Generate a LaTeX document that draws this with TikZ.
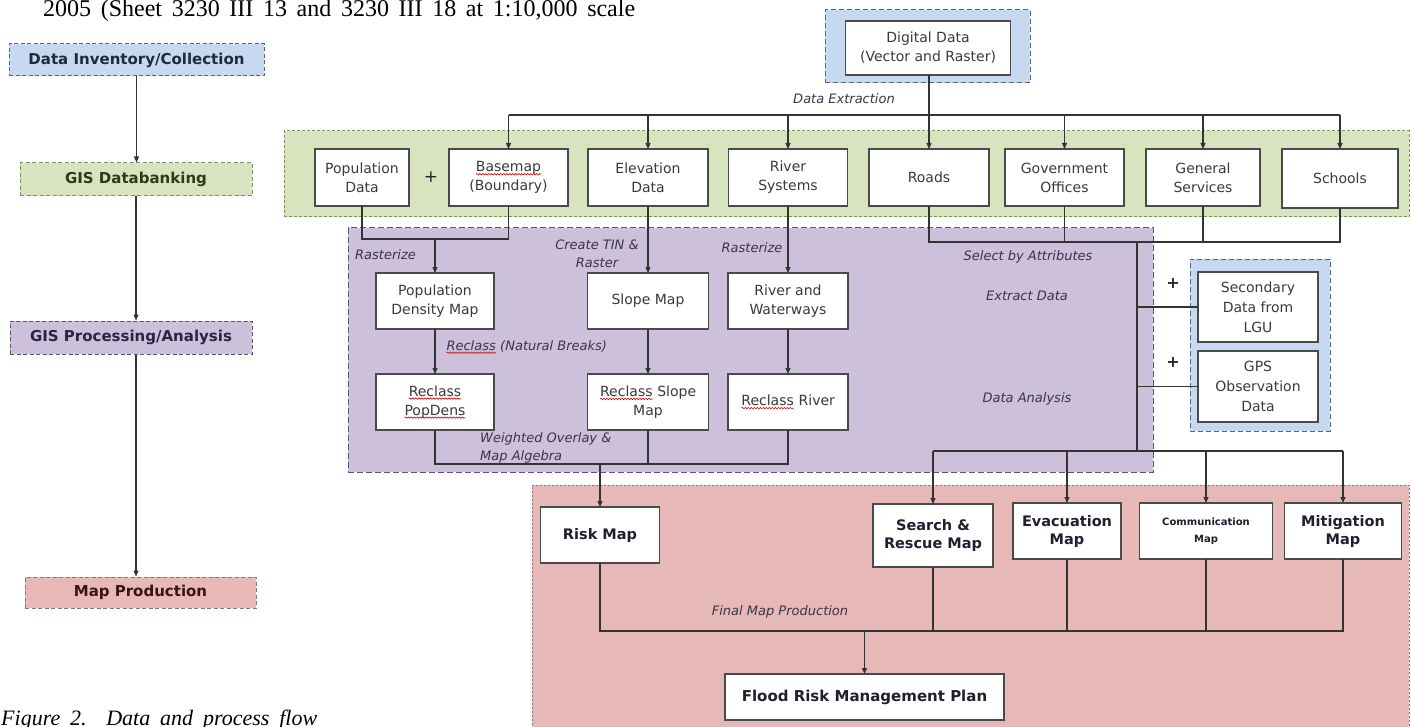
\documentclass[tikz,border=0pt]{standalone}
\usepackage{fontspec}
\setmainfont{Liberation Serif}
\newfontfamily\dv{DejaVu Sans}
\usetikzlibrary{arrows.meta,decorations.pathmorphing}

\definecolor{cblue}{HTML}{C6D9F1}
\definecolor{cgreen}{HTML}{D7E4BD}
\definecolor{cpurple}{HTML}{CCC0DA}
\definecolor{cpink}{HTML}{E6B9B8}
\definecolor{cbluebd}{HTML}{56657C}
\definecolor{cgreenbd}{HTML}{7F8F60}
\definecolor{cpurplebd}{HTML}{5C5670}
\definecolor{cpinkbd}{HTML}{8A7878}
\definecolor{cline}{HTML}{333333}
\definecolor{ctext}{HTML}{3A3A3A}
\definecolor{cbord}{HTML}{4A4A4A}
\definecolor{clbl}{HTML}{3A3548}
\definecolor{cbold}{HTML}{1F1F30}
\definecolor{tblue}{HTML}{1F2A3A}
\definecolor{tgreen}{HTML}{2E3B13}
\definecolor{tpurple}{HTML}{2B2545}
\definecolor{tpink}{HTML}{3B1212}

\newcommand\sqw[1]{\tikz[baseline=(sqwn.base)]{\node[shape=rectangle,inner sep=0pt,outer sep=0pt,minimum width=0pt,minimum height=0pt,draw=none,fill=none,anchor=base] (sqwn) at (0,0) {#1};\draw[red!85!black,line width=0.6pt,decorate,decoration={snake,amplitude=0.7pt,segment length=3pt}] ([yshift=-2.6pt]sqwn.base west) -- ([yshift=-2.6pt]sqwn.base east);}}

\tikzset{
  region/.style={rectangle, line width=1pt, inner sep=0pt, outer sep=0pt},
  bluereg/.style={region, fill=cblue, draw=cbluebd, dash pattern=on 5pt off 3pt},
  greenreg/.style={region, fill=cgreen, draw=cgreenbd, dash pattern=on 3pt off 2pt},
  purplereg/.style={region, fill=cpurple, draw=cpurplebd, dash pattern=on 6pt off 3pt},
  pinkreg/.style={region, fill=cpink, draw=cpinkbd, dash pattern=on 2pt off 2pt},
  wbox/.style={rectangle, draw=cbord, fill=white, line width=1.3pt, align=center,
    font=\dv\fontsize{14}{19}\selectfont, text=ctext, inner sep=2pt, outer sep=0pt},
  bbox/.style={wbox, font=\dv\bfseries\fontsize{14.5}{18}\selectfont, text=cbold},
  lbl/.style={font=\dv\itshape\fontsize{13}{18}\selectfont, text=clbl, inner sep=0pt, align=center},
  plus/.style={font=\dv\bfseries\fontsize{16}{16}\selectfont, text=black!85, inner sep=0pt},
  stagebox/.style={rectangle, line width=1pt, dash pattern=on 4pt off 2.5pt, inner sep=0pt,
    font=\dv\bfseries\fontsize{15}{18}\selectfont},
  cl/.style={draw=cline, line width=1.1pt},
  arr/.style={cl, -{Triangle[length=6pt,width=5pt]}}
}

\begin{document}
\begin{tikzpicture}[x=1pt,y=-1pt]
\useasboundingbox (0,0) rectangle (1412,727);
\clip (0,0) rectangle (1412,727);

% header and caption
\node[anchor=base west, inner sep=0pt, font=\fontsize{24}{28}\selectfont] (hdr) at (43,17)
  {\makebox[592pt][s]{2005 (Sheet 3230 III 13 and 3230 III 18 at 1:10,000 scale}};
\node[anchor=base west, inner sep=0pt, font=\itshape\fontsize{22}{26}\selectfont] (cap) at (1,725)
  {\makebox[316pt][s]{Figure 2.\ \ Data and process flow}};

% left column
\node[stagebox, fill=cblue, draw=cbluebd, text=tblue, minimum width=255, minimum height=32] (inv) at (136.5,60) {Data Inventory/Collection};
\node[stagebox, fill=cgreen, draw=cgreenbd, text=tgreen, minimum width=232, minimum height=33] (gdb) at (136,179.5) {GIS Databanking};
\node[stagebox, fill=cpurple, draw=cpurplebd, text=tpurple, minimum width=242, minimum height=33] (gpa) at (131,337.5) {GIS Processing/Analysis};
\node[stagebox, fill=cpink, draw=cpinkbd, text=tpink, minimum width=231, minimum height=31] (mp) at (140.5,592.5) {Map Production};
\draw[arr] (inv.south) -- (inv.south |- gdb.north);
\draw[arr] (gdb.south) -- (gdb.south |- gpa.north);
\draw[arr] (gdb.south |- gpa.south) -- (gdb.south |- mp.north);

% regions
\node[bluereg, minimum width=205, minimum height=73] (ddo) at (927.5,46.5) {};
\node[greenreg, minimum width=1125, minimum height=86] (greg) at (846.5,174) {};
\node[purplereg, minimum width=805, minimum height=244] (preg) at (750.5,350) {};
\node[bluereg, minimum width=140, minimum height=172] (sreg) at (1260,345) {};
\node[pinkreg, minimum width=877, minimum height=260] (kreg) at (970.5,615) {};

% digital data
\node[wbox, minimum width=165, minimum height=54] (dd) at (928,48) {Digital Data\\(Vector and Raster)};
\node[lbl] (lde) at (844,99) {Data Extraction};

% green boxes
\node[wbox, minimum width=94, minimum height=57] (pop) at (362,177.5) {Population\\Data};
\node[plus, font=\dv\fontsize{17}{17}\selectfont] (plus0) at (431,177) {+};
\node[wbox, minimum width=119, minimum height=57] (base) at (508.5,177.5) {\sqw{Basemap}\\(Boundary)};
\node[wbox, minimum width=120, minimum height=57] (elev) at (648,177.5) {Elevation\\Data};
\node[wbox, minimum width=119, minimum height=57] (riv) at (788,177.5) {River\\Systems};
\node[wbox, minimum width=120, minimum height=57] (roads) at (929,177.5) {Roads};
\node[wbox, minimum width=119, minimum height=57] (gov) at (1064.5,177.5) {Government\\Offices};
\node[wbox, minimum width=114, minimum height=57] (gen) at (1203,177.5) {General\\Services};
\node[wbox, minimum width=116, minimum height=59] (sch) at (1340,178.5) {Schools};

% purple boxes
\node[wbox, minimum width=118, minimum height=56] (pd) at (435,301) {Population\\Density Map};
\node[wbox, minimum width=121, minimum height=56] (slope) at (648,301) {Slope Map};
\node[wbox, minimum width=120, minimum height=56] (rw) at (788,301) {River and\\Waterways};
\node[wbox, minimum width=118, minimum height=56] (rpd) at (435,402) {\sqw{Reclass}\\\sqw{PopDens}};
\node[wbox, minimum width=121, minimum height=56] (rslope) at (648,402) {\sqw{Reclass} Slope\\Map};
\node[wbox, minimum width=120, minimum height=56] (rriv) at (788,402) {\sqw{Reclass} River};

\node[lbl, anchor=west] (lr1) at (355,255) {Rasterize};
\node[lbl] (ltin) at (597,254) {Create TIN \&\\Raster};
\node[lbl] (lr2) at (752,248) {Rasterize};
\node[lbl, anchor=west] (lnb) at (446,347) {\sqw{Reclass} (Natural Breaks)};
\node[lbl, anchor=west, align=left] (lwo) at (480,448) {Weighted Overlay \&\\Map Algebra};
\node[lbl] (lsel) at (1028,257) {Select by Attributes};
\node[lbl] (lext) at (1027,296) {Extract Data};
\node[lbl] (lana) at (1027,399) {Data Analysis};

% secondary data
\node[wbox, minimum width=120, minimum height=70, font=\dv\fontsize{14}{20}\selectfont] (sec) at (1258,307) {Secondary\\Data from\\LGU};
\node[wbox, minimum width=120, minimum height=71, font=\dv\fontsize{14}{20}\selectfont] (gps) at (1258,386.5) {GPS\\Observation\\Data};
\node[plus] (plus1) at (1173,283) {+};
\node[plus] (plus2) at (1173,362) {+};

% pink boxes
\node[bbox, minimum width=119, minimum height=56] (risk) at (600,535) {Risk Map};
\node[bbox, minimum width=120, minimum height=63] (sr) at (933,535.5) {Search \&\\Rescue Map};
\node[bbox, minimum width=108, minimum height=56] (ev) at (1067,531) {Evacuation\\Map};
\node[bbox, minimum width=133, minimum height=56, font=\dv\bfseries\fontsize{10}{17}\selectfont] (com) at (1206,531) {Communication\\Map};
\node[bbox, minimum width=117, minimum height=56] (mit) at (1343,531) {Mitigation\\Map};
\node[lbl] (lfin) at (780,612) {Final Map Production};
\node[bbox, minimum width=279, minimum height=46, font=\dv\bfseries\fontsize{15}{18}\selectfont] (fr) at (864.5,697) {Flood Risk Management Plan};

% connectors
\coordinate (bus) at (0,115);
\coordinate (u) at (0,239);
\coordinate (w) at (0,464);
\coordinate (s) at (0,242);
\coordinate (vx) at (1137,0);
\coordinate (d) at (0,451);
\coordinate (f) at (0,631);

\draw[arr] (roads.north |- dd.south) -- (roads.north);
\draw[cl] (base.north |- bus) -- (sch.north |- bus);
\foreach \n in {base,elev,riv,gov,gen,sch} \draw[arr] (\n.north |- bus) -- (\n.north);

\draw[cl] (pop.south) -- (pop.south |- u) -- (base.south |- u) -- (base.south);
\draw[arr] (pd.north |- u) -- (pd.north);
\draw[arr] (elev.south) -- (slope.north);
\draw[arr] (riv.south) -- (rw.north);
\draw[arr] (pd.south) -- (rpd.north);
\draw[arr] (slope.south) -- (rslope.north);
\draw[arr] (rw.south) -- (rriv.north);

\draw[cl] (rpd.south) -- (rpd.south |- w) -- (rriv.south |- w) -- (rriv.south);
\draw[cl] (rslope.south) -- (rslope.south |- w);
\draw[arr] (risk.north |- w) -- (risk.north);

\draw[cl] (roads.south) -- (roads.south |- s) -- (sch.south |- s) -- (sch.south);
\draw[cl] (gov.south) -- (gov.south |- s);
\draw[cl] (gen.south) -- (gen.south |- s);
\draw[cl] (vx |- s) -- (vx |- d);
\draw[cl] (sec.west -| vx) -- (sec.west);
\draw[cl] (gps.west -| vx) -- (gps.west);
\draw[cl] (sr.north |- d) -- (mit.north |- d);
\foreach \n in {sr,ev,com,mit} \draw[arr] (\n.north |- d) -- (\n.north);

\draw[cl] (risk.south) -- (risk.south |- f) -- (mit.south |- f) -- (mit.south);
\foreach \n in {sr,ev,com} \draw[cl] (\n.south) -- (\n.south |- f);
\draw[arr] (fr.north |- f) -- (fr.north);
\end{tikzpicture}
\end{document}
